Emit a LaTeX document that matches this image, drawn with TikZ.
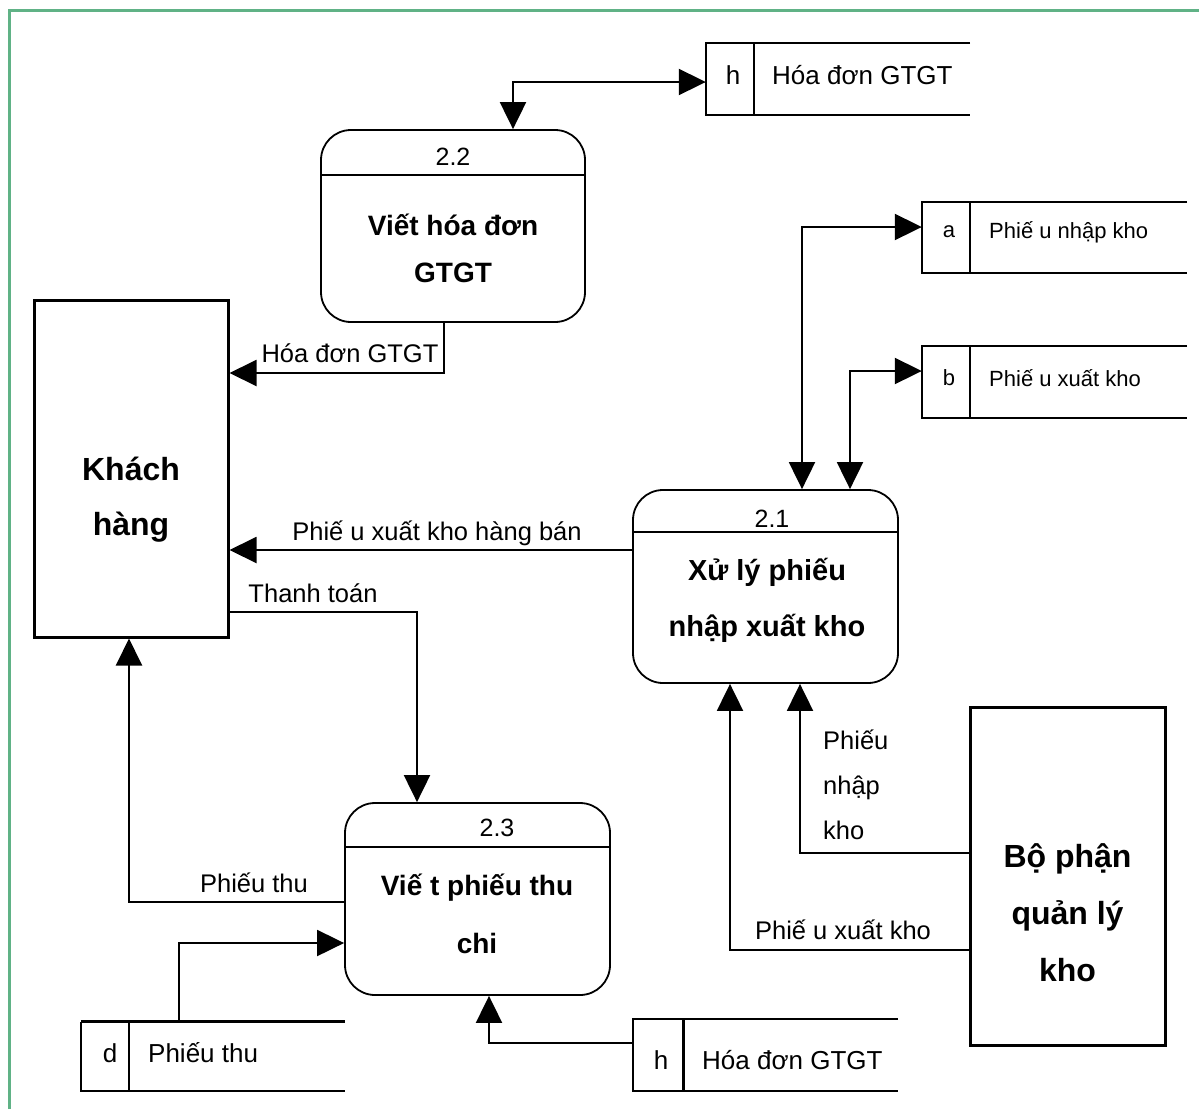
\documentclass[tikz,border=0pt]{standalone}
\usepackage{fontspec}
\setmainfont{Liberation Sans}
\usetikzlibrary{arrows.meta,calc}
\definecolor{framegreen}{RGB}{96,178,134}
\tikzset{
  x=1pt, y=-1pt,
  dfd/.tip={Triangle[length=27pt,width=26pt]},
  entity/.style={draw, line width=3pt, inner sep=0pt},
  proc/.style={draw, line width=1.8pt, rounded corners=30pt, inner sep=0pt,
    minimum width=265, minimum height=192},
  procline/.style={line width=2.6pt},
  storebox/.style={inner sep=0pt},
  storeline/.style={line width=1.6pt},
  flow/.style={line width=2pt, -dfd},
  flowboth/.style={line width=2pt, dfd-dfd},
  lbl/.style={inner sep=0pt, font=\fontsize{25.5}{30}\selectfont},
  numtxt/.style={inner sep=0pt, font=\fontsize{25}{30}\selectfont},
  storetxt/.style={inner sep=0pt, font=\fontsize{26}{30}\selectfont},
  smalltxt/.style={inner sep=0pt, font=\fontsize{22}{26}\selectfont},
}
\begin{document}
\begin{tikzpicture}
\useasboundingbox (0,0) rectangle (1199,1109);
% frame
\draw[framegreen, line width=3pt] (9,1109) -- (9,10) -- (1199,10);

% external entities
\node[entity, minimum width=194, minimum height=337] (kh) at (131,468.5) {};
\node[inner sep=0pt, align=center, font=\fontsize{32}{55}\selectfont\bfseries] (khtxt) at (131,500) {Khách\\hàng};
\node[entity, minimum width=195, minimum height=338] (bp) at (1067.5,876) {};
\node[inner sep=0pt, align=center, font=\fontsize{32}{57}\selectfont\bfseries] (bptxt) at (1067.5,913) {Bộ phận\\quản lý\\kho};

% processes
\node[proc, minimum width=264] (p22) at (453,226) {};
\draw[procline] ($(p22.north west)+(0,46)$) -- ($(p22.north east)+(0,46)$);
\node[numtxt] (n22) at (453,157) {2.2};
\node[inner sep=0pt, align=center, font=\fontsize{28}{47}\selectfont\bfseries] (t22) at (453,248.5) {Viết hóa đơn\\GTGT};

\node[proc, minimum height=193] (p21) at (765.5,586.5) {};
\draw[procline] ($(p21.north west)+(0,43)$) -- ($(p21.north east)+(0,43)$);
\node[numtxt] (n21) at (772,519) {2.1};
\node[inner sep=0pt, align=center, font=\fontsize{29}{56}\selectfont\bfseries] (t21) at (767,600) {Xử lý phiếu\\nhập xuất kho};

\node[proc] (p23) at (477.5,899) {};
\draw[procline] ($(p23.north west)+(0,45)$) -- ($(p23.north east)+(0,45)$);
\node[numtxt] (n23) at (497,828) {2.3};
\node[inner sep=0pt, align=center, font=\fontsize{28}{58}\selectfont\bfseries] (t23) at (477,914) {Viế t phiếu thu\\chi};

% data stores
\node[storebox, minimum width=264, minimum height=72] (sh1) at (838,79) {};
\draw[storeline] (sh1.north east) -- (sh1.north west) -- (sh1.south west) -- (sh1.south east);
\draw[storeline] ($(sh1.north west)+(48,0)$) -- ($(sh1.south west)+(48,0)$);
\node[storetxt] (sh1id) at (733,75) {h};
\node[storetxt, anchor=west] (sh1txt) at (772,75) {Hóa đơn GTGT};

\node[storebox, minimum width=265, minimum height=71] (sa) at (1054.5,237.5) {};
\draw[storeline] (sa.north east) -- (sa.north west) -- (sa.south west) -- (sa.south east);
\draw[storeline] ($(sa.north west)+(48,0)$) -- ($(sa.south west)+(48,0)$);
\node[smalltxt] (said) at (949,232) {a};
\node[smalltxt, anchor=west] (satxt) at (989,232) {Phiế u nhập kho};

\node[storebox, minimum width=265, minimum height=72] (sb) at (1054.5,382) {};
\draw[storeline] (sb.north east) -- (sb.north west) -- (sb.south west) -- (sb.south east);
\draw[storeline] ($(sb.north west)+(48,0)$) -- ($(sb.south west)+(48,0)$);
\node[smalltxt] (sbid) at (949,378) {b};
\node[smalltxt, anchor=west] (sbtxt) at (989,378) {Phiế u xuất kho};

\node[storebox, minimum width=264, minimum height=69] (sd) at (213,1056.5) {};
\draw[storeline] (sd.north west) -- (sd.south west) -- (sd.south east);
\draw[line width=3pt] (sd.north west) -- (sd.north east);
\draw[storeline] ($(sd.north west)+(48,0)$) -- ($(sd.south west)+(48,0)$);
\node[storetxt] (sdid) at (110,1053) {d};
\node[storetxt, anchor=west] (sdtxt) at (148,1053) {Phiếu thu};

\node[storebox, minimum width=265, minimum height=72] (sh2) at (765.5,1055) {};
\draw[storeline] (sh2.north east) -- (sh2.north west) -- (sh2.south west) -- (sh2.south east);
\draw[line width=3pt] ($(sh2.north west)+(51,0)$) -- ($(sh2.south west)+(51,0)$);
\node[storetxt] (sh2id) at (661,1060) {h};
\node[storetxt, anchor=west] (sh2txt) at (702,1060) {Hóa đơn GTGT};

% data flows
\coordinate (j1) at (513,82);
\draw[flowboth] (p22.north -| j1) |- (sh1.west |- j1);
\coordinate (j2) at (802,227);
\draw[flowboth] (p21.north -| j2) |- (sa.west |- j2);
\coordinate (j3) at (850,371);
\draw[flowboth] (p21.north -| j3) |- (sb.west |- j3);

\coordinate (j4) at (444,373);
\draw[flow] (p22.south -| j4) |- (kh.east |- j4);
\node[lbl] (l4) at (350,353) {Hóa đơn GTGT};

\coordinate (j5) at (430,550);
\draw[flow] (p21.west |- j5) -- (kh.east |- j5);
\node[lbl] (l5) at (437,533) {Phiế u xuất kho hàng bán};

\coordinate (j6) at (417,612);
\draw[flow] (kh.east |- j6) -| (p23.north -| j6);
\node[lbl] (l6) at (313,593) {Thanh toán};

\coordinate (j7) at (129,902);
\draw[flow] (p23.west |- j7) -| (kh.south -| j7);
\node[lbl] (l7) at (254,883) {Phiếu thu};

\coordinate (j8) at (179,943);
\draw[flow] (sd.north -| j8) |- (p23.west |- j8);

\coordinate (j9) at (489,1043);
\draw[flow] (sh2.west |- j9) -| (p23.south -| j9);

\coordinate (j10) at (800,853);
\draw[flow] (bp.west |- j10) -| (p21.south -| j10);
\node[lbl, anchor=west, align=left, font=\fontsize{25.5}{45}\selectfont] (l10) at (823,785) {Phiếu\\nhập\\kho};

\coordinate (j11) at (730,950);
\draw[flow] (bp.west |- j11) -| (p21.south -| j11);
\node[lbl] (l11) at (843,930) {Phiế u xuất kho};
\end{tikzpicture}
\end{document}
